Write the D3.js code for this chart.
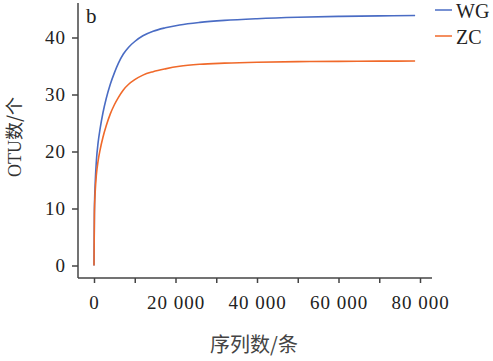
<!DOCTYPE html>
<html>
<head>
  <meta charset="utf-8">
  <script src="https://d3js.org/d3.v7.min.js"></script>
  <style>
    body { margin: 0; background: #fff; }
  </style>
</head>
<body>
<script>
  // sequencing depth (reads) and OTU counts
  var depth = [0, 100, 300, 600, 1000, 1500, 2200, 3000, 4000, 5000, 6000, 7200, 8500,
               10000, 12000, 14500, 17500, 21000, 26000, 32000, 40000, 50000, 60000, 70000, 78800];
  var wgOtu = [0, 9.5, 14.5, 18.5, 21.5, 24, 26.8, 29.3, 31.8, 33.8, 35.5, 37.1, 38.3,
               39.3, 40.3, 41.1, 41.7, 42.2, 42.65, 43.0, 43.3, 43.55, 43.7, 43.8, 43.85];
  var zcOtu = [0, 9, 13, 16, 18.3, 20.3, 22.5, 24.5, 26.6, 28.2, 29.5, 30.8, 31.8,
               32.6, 33.4, 34.0, 34.5, 34.95, 35.3, 35.5, 35.67, 35.77, 35.82, 35.85, 35.87];
  var seriesNames = ["WG", "ZC"];
  var seriesColors = ["#4a6cc4", "#f0692a"];
  var xTicks = [0, 10000, 20000, 30000, 40000, 50000, 60000, 70000, 80000];
  var yTicks = [0, 10, 20, 30, 40];

  var serif = "'Liberation Serif', 'Times New Roman', serif";
  var cjk = "'Noto Sans CJK SC', sans-serif";

  var width = 493, height = 361;
  var svg = d3.select("body").append("svg")
      .attr("width", width).attr("height", height);

  var x = d3.scaleLinear().domain([0, 80000]).range([94, 420]);
  var y = d3.scaleLinear().domain([0, 40]).range([265.5, 37.5]);

  var fmt = function(d) {
    return d === 0 ? "0" : d3.format(",")(d).replace(",", " ");
  };

  // x axis
  var xAxis = svg.append("g")
      .attr("transform", "translate(0,278)")
      .call(d3.axisBottom(x).tickValues(xTicks).tickSize(5).tickPadding(13)
        .tickFormat(function(d) { return d % 20000 === 0 ? fmt(d) : ""; }));
  xAxis.select(".domain").attr("d", "M78,0H432");

  // y axis
  var yAxis = svg.append("g")
      .attr("transform", "translate(78,0)")
      .call(d3.axisLeft(y).tickValues(yTicks).tickSize(6).tickPadding(6));
  yAxis.select(".domain").attr("d", "M0,3V278");

  svg.selectAll(".domain, .tick line")
      .attr("stroke", "#444").attr("stroke-width", 1.5);
  svg.selectAll(".tick text")
      .style("font-family", serif)
      .style("font-size", "19px")
      .attr("letter-spacing", "1px")
      .attr("fill", "#222");

  // lines
  var line = d3.line()
      .x(function(d) { return x(d[0]); })
      .y(function(d) { return y(d[1]); })
      .curve(d3.curveMonotoneX);

  [wgOtu, zcOtu].forEach(function(vals, i) {
    svg.append("path")
        .datum(depth.map(function(d, j) { return [d, vals[j]]; }))
        .attr("fill", "none")
        .attr("stroke", seriesColors[i])
        .attr("stroke-width", 1.6)
        .attr("d", line);
  });

  // legend
  seriesNames.forEach(function(name, i) {
    var ly = 10 + i * 26;
    svg.append("line")
        .attr("x1", 435).attr("x2", 452)
        .attr("y1", ly).attr("y2", ly)
        .attr("stroke", seriesColors[i]).attr("stroke-width", 1.5);
    svg.append("text")
        .attr("x", 456).attr("y", ly + 7.5)
        .style("font-family", serif)
        .style("font-size", "20px")
        .attr("fill", "#222")
        .text(name);
  });

  // panel letter
  svg.append("text").attr("x", 86).attr("y", 23)
      .style("font-family", serif)
      .style("font-size", "21px").attr("fill", "#222").text("b");

  // axis titles
  svg.append("text")
      .attr("x", 254).attr("y", 352)
      .attr("text-anchor", "middle")
      .style("font-family", cjk)
      .style("font-size", "20px")
      .attr("fill", "#444")
      .text("序列数/条");

  var yt = svg.append("text")
      .attr("transform", "translate(21,137) rotate(-90)")
      .attr("text-anchor", "middle")
      .style("font-size", "18px")
      .attr("fill", "#333");
  yt.append("tspan").style("font-family", serif).text("OTU");
  yt.append("tspan").style("font-family", cjk).text("数/个");
</script>
</body>
</html>
